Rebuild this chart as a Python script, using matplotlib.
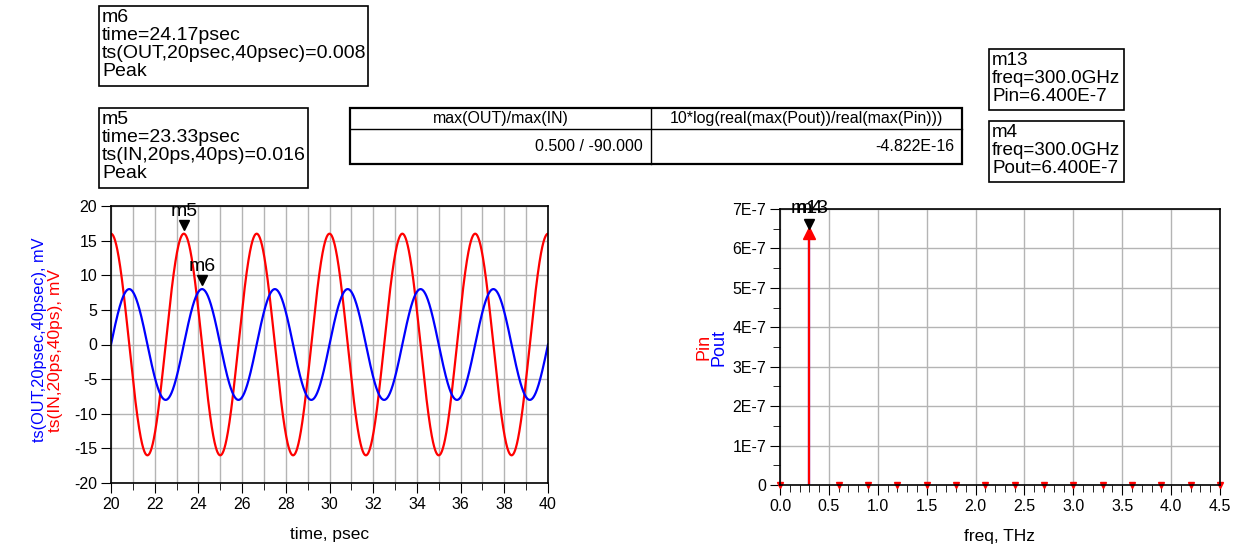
import matplotlib.pyplot as plt
import numpy as np
from matplotlib.patches import Rectangle
from matplotlib.ticker import MultipleLocator, FuncFormatter

plt.rcParams['font.family'] = ['Liberation Sans', 'DejaVu Sans']
plt.rcParams['axes.unicode_minus'] = False

tone_freq_ghz = 300.0          # fundamental
in_amp_mv = 16.0               # ts(IN) peak
out_amp_mv = 8.0               # ts(OUT) peak
in_phase_deg = 90.0            # IN starts at its peak (cosine)
out_phase_deg = 0.0            # OUT starts at zero, rising
t_start, t_stop = 20.0, 40.0   # psec

# Markers on the time plot
marker_names = ["m5", "m6"]
marker_t = [23.33, 24.17]
marker_v = [16.0, 8.0]

# Spectrum (harmonics of 300 GHz, THz)
spec_freq = [0.0, 0.3, 0.6, 0.9, 1.2, 1.5, 1.8, 2.1, 2.4, 2.7, 3.0, 3.3, 3.6, 3.9, 4.2, 4.5]
pin_vals = [0, 6.4e-7, 0, 0, 0, 0, 0, 0, 0, 0, 0, 0, 0, 0, 0, 0]
pout_vals = [0, 6.4e-7, 0, 0, 0, 0, 0, 0, 0, 0, 0, 0, 0, 0, 0, 0]

W, H = 1238, 554
fig = plt.figure(figsize=(W / 100, H / 100), dpi=100)


def fx(px):
    return px / W


def fy(py):
    return 1 - py / H


# ---- left: time domain ----
ax1 = fig.add_axes([fx(111), fy(483), fx(548) - fx(111), fy(206) - fy(483)])
t = np.linspace(t_start, t_stop, 2001)
f_thz = tone_freq_ghz / 1000.0
v_in = in_amp_mv * np.sin(2 * np.pi * f_thz * (t - t_start) + np.radians(in_phase_deg))
v_out = out_amp_mv * np.sin(2 * np.pi * f_thz * (t - t_start) + np.radians(out_phase_deg))
ax1.plot(t, v_in, color='#ff0000', lw=1.6)
ax1.plot(t, v_out, color='#0000ff', lw=1.6)
ax1.set_xlim(t_start, t_stop)
ax1.set_ylim(-20, 20)
ax1.xaxis.set_major_locator(MultipleLocator(2))
ax1.xaxis.set_minor_locator(MultipleLocator(1))
ax1.yaxis.set_major_locator(MultipleLocator(5))
ax1.grid(which='both', axis='x', color='#b4b4b4', lw=1)
ax1.grid(which='major', axis='y', color='#b4b4b4', lw=1)
for mt, mv, name in zip(marker_t, marker_v, marker_names):
    ax1.plot(mt, mv + 1.3, marker='v', color='black', ms=7, ls='')
    ax1.text(mt, mv + 2.0, name, ha='center', va='bottom', fontsize=14)
ax1.set_xlabel("time, psec", fontsize=12.5, labelpad=11)

# ---- right: spectrum ----
ax2 = fig.add_axes([fx(780), fy(485), fx(1220) - fx(780), fy(209) - fy(485)])
ax2.vlines(spec_freq, 0, pout_vals, color='#0000ff', lw=1.6)
ax2.vlines(spec_freq, 0, pin_vals, color='#ff0000', lw=1.6)
for fr, pv in zip(spec_freq, pin_vals):
    if pv > 0:
        ax2.plot(fr, pv, marker='^', color='#ff0000', ms=8, ls='')
        ax2.plot(fr, pv + 0.22e-7, marker='v', color='black', ms=7, ls='')
        ax2.text(fr, pv + 0.4e-7, "m13", ha='center', va='bottom', fontsize=14)
        ax2.text(fr, pv + 0.4e-7, "m4", ha='center', va='bottom', fontsize=14)
    else:
        ax2.plot(fr, pv, marker='v', color='#ff0000', ms=5, ls='', clip_on=False)
ax2.set_xlim(0, 4.5)
ax2.set_ylim(0, 7e-7)
ax2.xaxis.set_major_locator(MultipleLocator(0.5))
ax2.xaxis.set_minor_locator(MultipleLocator(0.1))
ax2.yaxis.set_major_locator(MultipleLocator(1e-7))
ax2.yaxis.set_minor_locator(MultipleLocator(0.5e-7))
ax2.xaxis.set_major_formatter(FuncFormatter(lambda v, p: f"{v:.1f}"))
ax2.yaxis.set_major_formatter(FuncFormatter(lambda v, p: "0" if abs(v) < 1e-12 else f"{v * 1e7:.0f}E-7"))
ax2.grid(which='major', color='#b4b4b4', lw=1)
ax2.set_xlabel("freq, THz", fontsize=12.5, labelpad=11)

for ax in (ax1, ax2):
    ax.tick_params(which='major', direction='out', length=7, labelsize=11.5, pad=3)
    ax.tick_params(which='minor', direction='out', length=5)
    for s in ax.spines.values():
        s.set_linewidth(1.2)

# y labels (two-colour)
fig.text(fx(40), fy(340), "ts(OUT,20psec,40psec), mV", color='#0000ff', rotation=90,
         ha='center', va='center', fontsize=11.8)
fig.text(fx(56), fy(351), "ts(IN,20ps,40ps), mV", color='#ff0000', rotation=90,
         ha='center', va='center', fontsize=12.5)
fig.text(fx(704), fy(347), "Pin", color='#ff0000', rotation=90, ha='center', va='center', fontsize=13)
fig.text(fx(719), fy(347), "Pout", color='#0000ff', rotation=90, ha='center', va='center', fontsize=13)


# ---- marker readout boxes ----
def readout(x0, y0, x1, y1, lines, size=14):
    fig.patches.append(Rectangle((fx(x0), fy(y1)), fx(x1) - fx(x0), fy(y0) - fy(y1),
                                 transform=fig.transFigure, fill=False, ec='black', lw=1.2))
    fig.text(fx(x0 + 3), fy(y0 + 3), "\n".join(lines), ha='left', va='top',
             fontsize=size, linespacing=1.07)


readout(99, 6, 368, 86, ["m6", "time=24.17psec", "ts(OUT,20psec,40psec)=0.008", "Peak"])
readout(99, 108, 308, 188, ["m5", "time=23.33psec", "ts(IN,20ps,40ps)=0.016", "Peak"])
readout(989, 49, 1124, 110, ["m13", "freq=300.0GHz", "Pin=6.400E-7"], size=13.6)
readout(989, 121, 1124, 182, ["m4", "freq=300.0GHz", "Pout=6.400E-7"], size=13.6)

# ---- equation table ----
tbl_headers = ["max(OUT)/max(IN)", "10*log(real(max(Pout))/real(max(Pin)))"]
tbl_values = ["0.500 / -90.000", "-4.822E-16"]
tx0, tx1, tx2 = 350, 651, 962
ty0, ty1, ty2 = 108, 129, 164
fig.patches.append(Rectangle((fx(tx0), fy(ty2)), fx(tx2) - fx(tx0), fy(ty0) - fy(ty2),
                             transform=fig.transFigure, fill=False, ec='black', lw=1.6))
fig.add_artist(plt.Line2D([fx(tx0), fx(tx2)], [fy(ty1), fy(ty1)], color='black', lw=1))
fig.add_artist(plt.Line2D([fx(tx1), fx(tx1)], [fy(ty0), fy(ty2)], color='black', lw=1))
fig.text((fx(tx0) + fx(tx1)) / 2, fy((ty0 + ty1) / 2), tbl_headers[0], ha='center', va='center', fontsize=11.5)
fig.text((fx(tx1) + fx(tx2)) / 2, fy((ty0 + ty1) / 2), tbl_headers[1], ha='center', va='center', fontsize=11.5)
fig.text(fx(tx1 - 8), fy((ty1 + ty2) / 2), tbl_values[0], ha='right', va='center', fontsize=11.5)
fig.text(fx(tx2 - 8), fy((ty1 + ty2) / 2), tbl_values[1], ha='right', va='center', fontsize=11.5)

fig.savefig("out.png", dpi=100)
